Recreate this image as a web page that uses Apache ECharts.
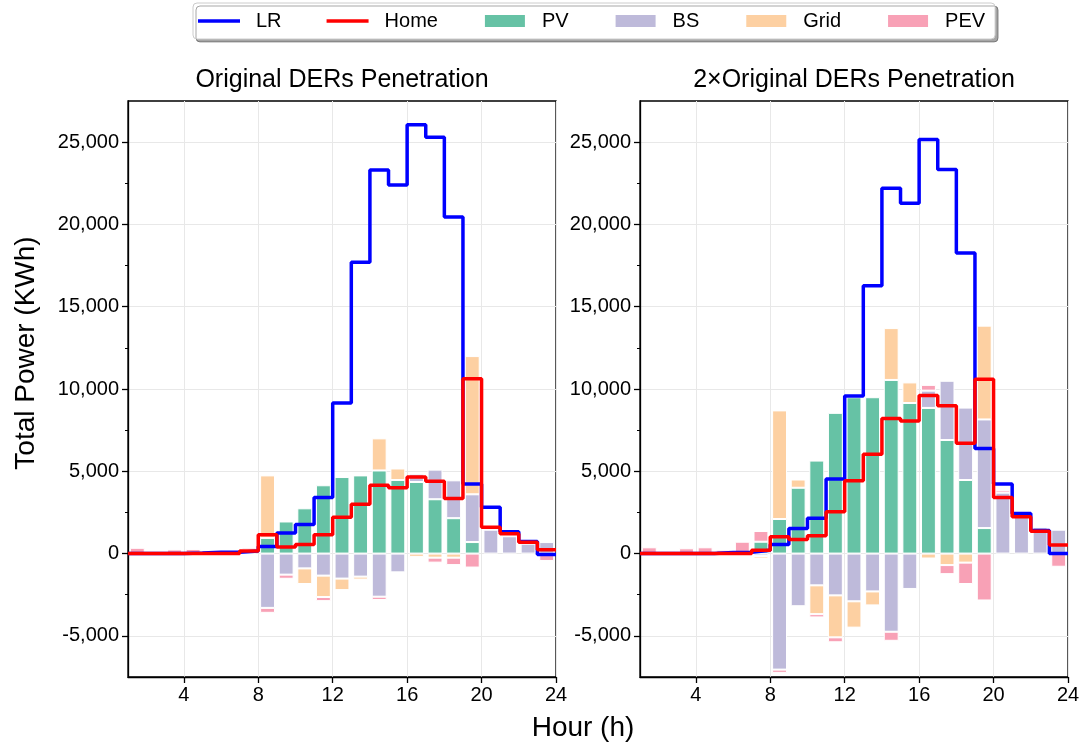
<!DOCTYPE html>
<html>
<head>
<meta charset="utf-8">
<script src="https://cdn.jsdelivr.net/npm/echarts@6/dist/echarts.min.js"></script>
<style>
html,body{margin:0;padding:0;background:#fff;}
#chart{width:1085px;height:746px;}
</style>
</head>
<body>
<div id="chart"></div>
<script>
// ---------- data ----------
const hours = [1,2,3,4,5,6,7,8,9,10,11,12,13,14,15,16,17,18,19,20,21,22,23];
const xTicks = [4,8,12,16,20,24];
const yTicks = [-5000,0,5000,10000,15000,20000,25000];
const panelTitles = ['Original DERs Penetration', '2\u00d7Original DERs Penetration'];
const seriesNames = ['LR','Home','PV','BS','Grid','PEV'];

// Original DERs penetration
const lrOrig   = [0,0,0,30,80,80,150, 430,1250,1770,3400,9150,17700,23300,22400,26050,25300,20450,4230,2820,1320,730,-50];
const homeOrig = [0,0,0,0,0,0,150, 1150,400,550,1150,2200,3000,4150,4000,4650,4400,3350,10630,1600,1200,690,230];
const pvOrig   = [0,0,0,0,0,0,250, 950,1950,2750,4150,4650,4750,5050,4470,4350,3300,2150,700, 0,0,0,0];
const bsOrig   = [0,0,0,0,0,0,0, -3300,-1280,-900,-1340,-1520,-1400,-2620,-1140, 500,1800,2300,2900, 1450,1050,600,700];
const gridOrig = [0,0,0,0,0,0,0, 3800,0,-950,-1300,-700,-180,1950,700, -200,-250,-250,8400, 0,0,0,0];
const pevOrig  = [350,100,250,280,150,80,120, -300,-250,0,-250,0,0,-200,0, 0,-300,-450,-850, 250,0,0,-450];

// 2x Original DERs penetration
const lrDouble   = [0,0,0,0,60,80,200, 550,1530,2140,4530,9570,16270,22200,21280,25160,23340,18270,6390,4220,2440,1400,0];
const homeDouble = [0,0,0,0,0,0,200, 1020,860,1080,2540,4430,6030,8200,8050,9600,8980,6700,10600,3410,2240,1350,520];
const pvDouble   = [0,0,0,0,0,0,720, 2100,4000,5650,8550,9500,9500,10550,9150,8850,6900,4470,1550, 0,0,0,0];
const bsDouble   = [0,0,0,0,0,0,-150, -7050,-3200,-1930,-2540,-2900,-2300,-4750,-2150, 1050,3600,4400,6600, 3700,2550,1600,1450];
const gridDouble = [0,0,0,0,0,0,-150, 6600,500,-1750,-2550,-1600,-850,3150,1250, -300,-700,-550,5700, 0,0,0,0];
const pevDouble  = [380,150,320,380,230,720,650, -200,0,-200,-300,0,0,-550,0, 350,-550,-1300,-2850, 150,100,80,-800];

// ---------- styling ----------
const FONT = '"Liberation Sans", Arial, Helvetica, sans-serif';
const COLORS = {LR:'#0000ff', Home:'#ff0000', PV:'#66c2a5', BS:'#bebada', Grid:'#fdd0a2', PEV:'#f8a1b6'};
const panels = [
  {left:128, lr:lrOrig, home:homeOrig, bars:{PV:pvOrig, BS:bsOrig, Grid:gridOrig, PEV:pevOrig}},
  {left:640, lr:lrDouble, home:homeDouble, bars:{PV:pvDouble, BS:bsDouble, Grid:gridDouble, PEV:pevDouble}}
];
const PW = 428, PT = 101, PH = 576;

function fmt(v){
  const s = Math.abs(v).toString().replace(/\B(?=(\d{3})+(?!\d))/g, ',');
  return (v < 0 ? '-' : '') + s;
}

const grids = [], xAxes = [], yAxes = [], series = [], titles = [];
panels.forEach((p, i) => {
  grids.push({left:p.left, top:PT, width:PW, height:PH, show:true, borderColor:'#000', borderWidth:1.3, backgroundColor:'transparent'});
  // hidden category axis for bars
  xAxes.push({type:'category', gridIndex:i, position:'top', data:hours.map(String), boundaryGap:true, show:false});
  // visible hour value axis
  xAxes.push({
    type:'value', gridIndex:i, position:'bottom', min:1, max:24, minInterval:4, maxInterval:4, splitNumber:6,
    axisLine:{show:true, onZero:false, lineStyle:{color:'#000', width:1.3}},
    axisTick:{show:true, length:6, lineStyle:{color:'#000', width:1.3}, customValues:xTicks},
    axisLabel:{color:'#000', fontSize:20, fontFamily:FONT, margin:8, showMinLabel:false},
    splitLine:{show:true, lineStyle:{color:'#e8e8e8', width:1}}
  });
  yAxes.push({
    type:'value', gridIndex:i, position:'left', min:-7500, max:27500, minInterval:5000, maxInterval:5000, splitNumber:7,
    axisLine:{show:true, onZero:false, lineStyle:{color:'#000', width:1.3}},
    axisTick:{show:true, length:6, lineStyle:{color:'#000', width:1.3}, customValues:yTicks},
    minorTick:{show:true, splitNumber:2, length:3, lineStyle:{color:'#000', width:1}},
    axisLabel:{color:'#000', fontSize:20, fontFamily:FONT, margin:9, showMinLabel:false, showMaxLabel:false, formatter:fmt},
    splitLine:{show:true, lineStyle:{color:'#e8e8e8', width:1}}
  });
  titles.push({text:panelTitles[i], left:p.left + PW/2, top:68, textAlign:'center', padding:0,
    textStyle:{fontSize:25, fontWeight:'normal', color:'#000', fontFamily:FONT}});

  ['PV','BS','Grid','PEV'].forEach(name => {
    const vals = p.bars[name];
    series.push({
      type:'bar', name, xAxisIndex:2*i, yAxisIndex:i, stack:'panel'+i, barWidth:'80%',
      itemStyle:{color:COLORS[name], borderColor:'#fff', borderWidth:1},
      data: vals.map(v => v === 0 ? '-' : v), z:2, animation:false
    });
  });
  const stepX = hours.concat([24]);
  [['LR', p.lr], ['Home', p.home]].forEach(([name, vals]) => {
    const ext = vals.concat([vals[vals.length-1]]);
    series.push({
      type:'line', name, xAxisIndex:2*i+1, yAxisIndex:i, step:'end', symbol:'none', showSymbol:false,
      lineStyle:{color:COLORS[name], width:3.5}, itemStyle:{color:COLORS[name]},
      data: stepX.map((h, k) => [h, ext[k]]), z: name === 'Home' ? 4 : 3, animation:false
    });
  });
});

const legendData = seriesNames.map(n => (n === 'LR' || n === 'Home')
  ? {name:n, icon:'path://M0,0H42V3.5H0Z', itemStyle:{color:COLORS[n]}}
  : {name:n, icon:'rect'});

const option = {
  animation:false,
  backgroundColor:'#fff',
  textStyle:{fontFamily:FONT},
  title: titles,
  legend: {
    data: legendData, left:193, top:3, orient:'horizontal',
    itemWidth:42, itemHeight:14, itemGap:45, symbolKeepAspect:true,
    padding:[8,10,8,5],
    backgroundColor:'#fff', borderColor:'#cccccc', borderWidth:1, borderRadius:4,
    shadowColor:'rgba(0,0,0,0.35)', shadowOffsetX:3, shadowOffsetY:3, shadowBlur:0,
    textStyle:{fontSize:20, color:'#000', fontFamily:FONT, padding:[0,0,0,11]},
    selectedMode:false
  },
  grid: grids,
  xAxis: xAxes,
  yAxis: yAxes,
  series: series,
  graphic: [
    {type:'text', x:583, y:728, style:{text:'Hour (h)', fontSize:28, fill:'#000', font:'28px ' + FONT, textAlign:'center', textVerticalAlign:'middle'}},
    {type:'text', x:26, y:353, rotation:Math.PI/2, style:{text:'Total Power (KWh)', fontSize:28, fill:'#000', font:'28px ' + FONT, textAlign:'center', textVerticalAlign:'middle'}}
  ]
};

const chart = echarts.init(document.getElementById('chart'), null, {renderer:'canvas'});
chart.setOption(option);
</script>
</body>
</html>
